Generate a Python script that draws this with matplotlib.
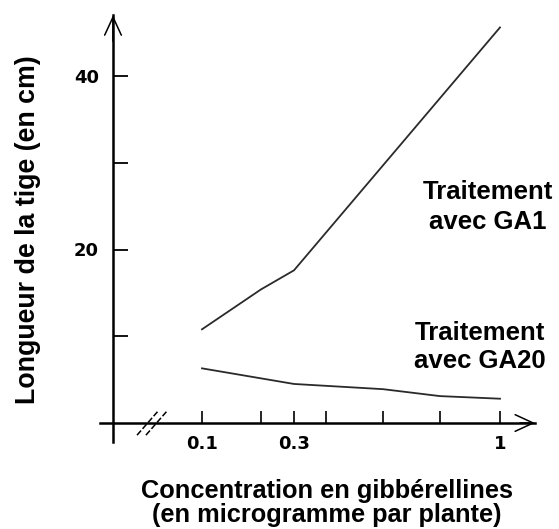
import numpy as np
import matplotlib
matplotlib.use("Agg")
import matplotlib.pyplot as plt

# data
conc_ga1 = [0.1, 0.2, 0.3, 1.0]
len_ga1 = [10.8, 15.4, 17.6, 45.6]
conc_ga20 = [0.1, 0.3, 0.6, 0.8, 1.0]
len_ga20 = [6.3, 4.5, 3.9, 3.1, 2.8]

x_ticks = [0.1, 0.2, 0.3, 0.4, 0.6, 0.8, 1.0]
x_ticklabels = ["0.1", "", "0.3", "", "", "", "1"]
y_ticks = [10, 20, 30, 40]
y_ticklabels = ["", "20", "", "40"]

# the hand drawn x axis is not regular: piecewise scale (concentration -> position)
scale_conc = [-2.0, 0.0, 0.1, 0.2, 0.3, 0.4, 0.6, 0.8, 1.0, 3.0]
scale_pos = [-1667.0, 113.0, 202.0, 261.0, 294.0, 326.0, 383.0, 440.0, 500.0, 1100.0]


def forward(x):
    return np.interp(x, scale_conc, scale_pos)


def inverse(p):
    return np.interp(p, scale_pos, scale_conc)


W, H = 559, 529
PX_PER_CM = 8.675
Y0_PX = 423

fig = plt.figure(figsize=(W / 100, H / 100), dpi=100)
ax = fig.add_axes([0, 0, 1, 1])
ax.set_xscale("function", functions=(forward, inverse))
ax.set_xlim(inverse(0), inverse(W))
ax.set_ylim(-(H - Y0_PX) / PX_PER_CM, Y0_PX / PX_PER_CM)
ax.patch.set_alpha(0)

line_col = "#2a2a2a"
ax.plot(conc_ga1, len_ga1, color=line_col, lw=1.3)
ax.plot(conc_ga20, len_ga20, color=line_col, lw=1.3)

# axes drawn like the hand sketch
for s in ["top", "right"]:
    ax.spines[s].set_visible(False)
ax.spines["left"].set_position(("data", 0))
ax.spines["bottom"].set_position(("data", 0))
ax.spines["left"].set_bounds(-2.2, 47.0)
ax.spines["bottom"].set_bounds(inverse(100), inverse(535))
for s in ["left", "bottom"]:
    ax.spines[s].set_linewidth(1.8)
    ax.spines[s].set_color("black")

ax.set_xticks(x_ticks)
ax.set_xticklabels(x_ticklabels)
ax.set_yticks(y_ticks)
ax.set_yticklabels(y_ticklabels)
ax.minorticks_off()
ax.tick_params(axis="y", direction="in", length=11, width=1.3, pad=10,
               labelsize=13)
ax.tick_params(axis="x", direction="in", length=8.5, width=1.2, pad=8.5,
               labelsize=13)
for lab in ax.get_xticklabels() + ax.get_yticklabels():
    lab.set_fontweight("bold")
    lab.set_family("DejaVu Sans")

# arrow heads
arrow = dict(arrowstyle="->,head_length=1.3,head_width=0.6", lw=1.1,
             color="black", shrinkA=0, shrinkB=0)
ax.annotate("", xy=(0, 47.0), xytext=(0, 44.0), arrowprops=arrow)
ax.annotate("", xy=(inverse(535), 0), xytext=(inverse(520), 0),
            arrowprops=arrow)

# axis break
for dx in [0.0, 0.01]:
    ax.plot([0.027 + dx, 0.050 + dx], [-1.4, 1.3], color="black", lw=1.1,
            ls=(0, (4, 1.5)))

txt = dict(family="Liberation Sans", fontweight="bold",
           ha="center", va="center")
fig.text(488 / W, 1 - 207 / H, "Traitement\navec GA1", fontsize=18.5,
         linespacing=1.3, **txt)
fig.text(480 / W, 1 - 347 / H, "Traitement\navec GA20", fontsize=18.5,
         linespacing=1.2, **txt)
fig.text(327 / W, 1 - 503 / H,
         "Concentration en gibbérellines\n(en microgramme par plante)",
         fontsize=18.3, linespacing=1.05, **txt)
fig.text(28 / W, 1 - 230 / H, "Longueur de la tige (en cm)", rotation=90,
         fontsize=19.3, **txt)

fig.savefig("out.png", dpi=100)
